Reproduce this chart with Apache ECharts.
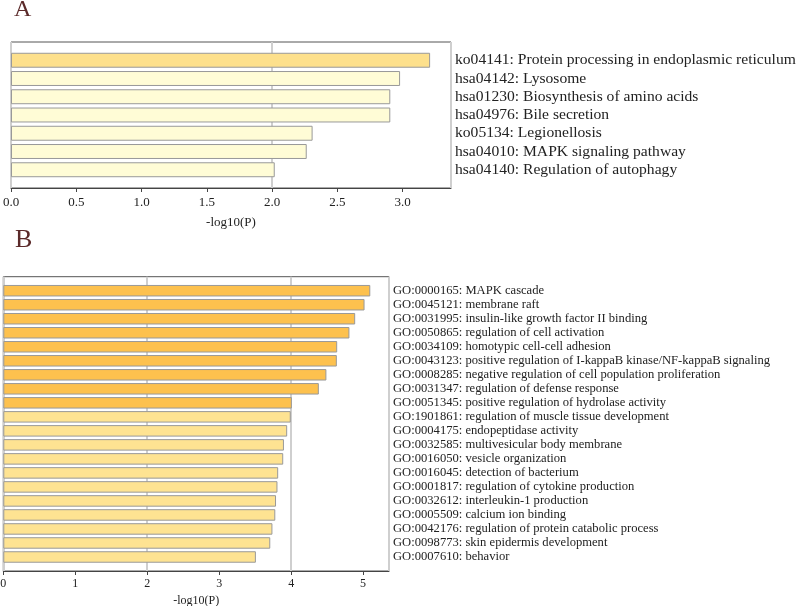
<!DOCTYPE html>
<html><head><meta charset="utf-8">
<script src="https://cdn.jsdelivr.net/npm/echarts@6/dist/echarts.min.js"></script>
<style>html,body{margin:0;padding:0;background:#fff}#c{width:800px;height:606px}</style>
</head><body><div id="c"></div>
<script>
const catA = [
  'ko04141: Protein processing in endoplasmic reticulum',
  'hsa04142: Lysosome',
  'hsa01230: Biosynthesis of amino acids',
  'hsa04976: Bile secretion',
  'ko05134: Legionellosis',
  'hsa04010: MAPK signaling pathway',
  'hsa04140: Regulation of autophagy'
];
const valA = [3.21, 2.98, 2.905, 2.905, 2.31, 2.265, 2.02];

const catB = [
  'GO:0000165: MAPK cascade',
  'GO:0045121: membrane raft',
  'GO:0031995: insulin-like growth factor II binding',
  'GO:0050865: regulation of cell activation',
  'GO:0034109: homotypic cell-cell adhesion',
  'GO:0043123: positive regulation of I-kappaB kinase/NF-kappaB signaling',
  'GO:0008285: negative regulation of cell population proliferation',
  'GO:0031347: regulation of defense response',
  'GO:0051345: positive regulation of hydrolase activity',
  'GO:1901861: regulation of muscle tissue development',
  'GO:0004175: endopeptidase activity',
  'GO:0032585: multivesicular body membrane',
  'GO:0016050: vesicle organization',
  'GO:0016045: detection of bacterium',
  'GO:0001817: regulation of cytokine production',
  'GO:0032612: interleukin-1 production',
  'GO:0005509: calcium ion binding',
  'GO:0042176: regulation of protein catabolic process',
  'GO:0098773: skin epidermis development',
  'GO:0007610: behavior'
];
const valB = [5.10, 5.02, 4.89, 4.81, 4.64, 4.635, 4.49, 4.385, 4.01, 3.995, 3.945, 3.90, 3.89, 3.82, 3.81, 3.79, 3.78, 3.74, 3.71, 3.51];

const axisTitle = '-log10(P)';
const FONT = 'Liberation Serif';
const TXT = '#222';

const maxA = 3.37, maxB = 5.36;

function frameGrid(left, top, width, height, show) {
  return { left, top, width, height, show, borderColor: '#555', borderWidth: 1,
           backgroundColor: 'transparent', containLabel: false, outerBoundsMode: 'none' };
}
function hiddenX(gi, max, extra) {
  return Object.assign({ type: 'value', gridIndex: gi, min: 0, max, position: 'bottom',
    axisLine: {show: false}, axisTick: {show: false}, axisLabel: {show: false}, splitLine: {show: false} }, extra || {});
}
function tickX(gi, max, interval, fmt, fontSize, nameSize, nameGap, margin) {
  return { type: 'value', gridIndex: gi, min: 0, max, interval, position: 'bottom',
    axisLine: {show: true, lineStyle: {color: '#444', width: 1}},
    axisTick: {show: true, inside: false, length: 4, lineStyle: {color: '#444'}},
    axisLabel: {show: true, formatter: fmt, showMaxLabel: false, fontFamily: FONT, fontSize, color: TXT, margin},
    splitLine: {show: false},
    name: axisTitle, nameLocation: 'middle', nameGap,
    nameTextStyle: {fontFamily: FONT, fontSize: nameSize, color: TXT} };
}
function hiddenY(gi) {
  return { type: 'value', gridIndex: gi, min: 0, max: 1, show: false, splitLine: {show: false} };
}
function catY(gi, data, fontSize) {
  return { type: 'category', gridIndex: gi, data, inverse: true, position: 'right',
    axisLine: {show: false}, axisTick: {show: false}, splitLine: {show: false},
    axisLabel: {interval: 0, fontFamily: FONT, fontSize, color: TXT, margin: 4, align: 'left'} };
}

// panel A geometry
const aL = 11, aT = 42, aW = 440, aH = 146, aP = aH / (catA.length + 1);
// panel B geometry
const bL = 3.3, bT = 276.7, bW = 385.7, bH = 294.3, bP = bH / (catB.length + 1);

const option = {
  animation: false,
  backgroundColor: '#fff',
  graphic: [
    {type: 'text', left: 14, top: -2, style: {text: 'A', fontFamily: FONT, fontSize: 24, fill: '#5b2a2a'}},
    {type: 'text', left: 15, top: 227, style: {text: 'B', fontFamily: FONT, fontSize: 26, fill: '#5b2a2a'}}
  ],
  grid: [
    frameGrid(aL, aT, aW, aH, true),
    frameGrid(aL, aT + aP / 2, aW, aH - aP, false),
    frameGrid(bL, bT, bW, bH, true),
    frameGrid(bL, bT + bP / 2, bW, bH - bP, false)
  ],
  xAxis: [
    hiddenX(0, maxA, {interval: 2, splitLine: {show: true, lineStyle: {color: '#cfcfcf', width: 2}}}),
    tickX(0, maxA, 0.5, v => v.toFixed(1), 13, 13, 28, 8),
    hiddenX(1, maxA),
    hiddenX(2, maxB, {interval: 2, splitLine: {show: true, lineStyle: {color: '#cfcfcf', width: 2}}}),
    tickX(2, maxB, 1, v => String(v), 12, 12, 24, 7),
    hiddenX(3, maxB)
  ],
  yAxis: [
    hiddenY(0),
    catY(1, catA, 15.6),
    hiddenY(2),
    catY(3, catB, 12.6)
  ],
  series: [
    { type: 'bar', xAxisIndex: 2, yAxisIndex: 1, data: valA, barCategoryGap: '18%',
      itemStyle: { color: p => p.dataIndex === 0 ? '#fde08c' : '#fffcd6', borderColor: '#999', borderWidth: 1 } },
    { type: 'bar', xAxisIndex: 5, yAxisIndex: 3, data: valB, barCategoryGap: '18%',
      itemStyle: { color: p => p.dataIndex < 9 ? '#fdc14e' : '#fee392', borderColor: '#999', borderWidth: 1 } }
  ]
};
const chart = echarts.init(document.getElementById('c'), null, {renderer: 'canvas'});
chart.setOption(option);
</script>
</body></html>
